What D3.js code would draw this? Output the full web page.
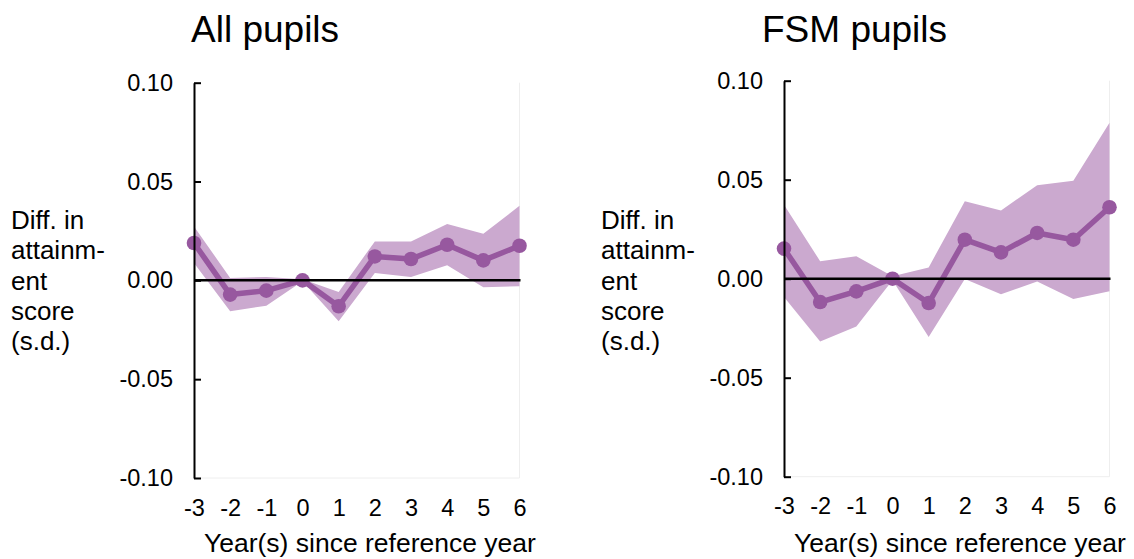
<!DOCTYPE html>
<meta charset="utf-8">
<script src="https://d3js.org/d3.v7.min.js"></script>
<style>
  body { margin: 0; background: #fff; }
  text { font-family: Arial, "Liberation Sans", sans-serif; fill: #000; }
</style>
<div id="chart"></div>
<script>
// data
var years = [-3, -2, -1, 0, 1, 2, 3, 4, 5, 6];
var yTicks = [-0.10, -0.05, 0.00, 0.05, 0.10];

var allEst = [0.0189, -0.0072, -0.0052, 0.0000, -0.0131, 0.0121, 0.0108, 0.0180, 0.0101, 0.0175];
var allHi  = [0.0273, 0.0012, 0.0017, 0.0005, -0.0059, 0.0197, 0.0197, 0.0285, 0.0236, 0.0377];
var allLo  = [0.0088, -0.0156, -0.0128, -0.0005, -0.0207, 0.0037, 0.0017, 0.0076, -0.0035, -0.0030];

var fsmEst = [0.0152, -0.0118, -0.0064, 0.0000, -0.0123, 0.0197, 0.0133, 0.0231, 0.0197, 0.0361];
var fsmHi  = [0.0374, 0.0088, 0.0113, 0.0012, 0.0057, 0.0391, 0.0345, 0.0472, 0.0495, 0.0787];
var fsmLo  = [-0.0093, -0.0317, -0.0241, -0.0008, -0.0295, -0.0002, -0.0079, -0.0014, -0.0103, -0.0064];

var lineColor = "#97589f", bandColor = "#cba9cf";

var svg = d3.select("#chart").append("svg")
    .attr("width", 1134)
    .attr("height", 559);

function panel(title, titleX, est, hi, lo, left, right, top, bottom) {
  var x = d3.scaleLinear().domain([-3, 6]).range([left, right]);
  var y = d3.scaleLinear().domain([-0.1, 0.1]).range([bottom, top]);
  var g = svg.append("g");

  // faint plot frame (right + bottom)
  g.append("path")
    .attr("d", "M" + right + "," + top + "V" + bottom + "H" + left)
    .attr("fill", "none")
    .attr("stroke", "#eeeeee")
    .attr("stroke-width", 1);

  var rows = years.map(function(d, i) { return {x: d, est: est[i], hi: hi[i], lo: lo[i]}; });

  // confidence band
  g.append("path")
    .datum(rows)
    .attr("fill", bandColor)
    .attr("d", d3.area()
      .x(function(d) { return x(d.x); })
      .y0(function(d) { return y(d.lo); })
      .y1(function(d) { return y(d.hi); }));

  // estimate line + dots
  g.append("path")
    .datum(rows)
    .attr("fill", "none")
    .attr("stroke", lineColor)
    .attr("stroke-width", 5.5)
    .attr("stroke-linejoin", "round")
    .attr("d", d3.line()
      .x(function(d) { return x(d.x); })
      .y(function(d) { return y(d.est); }));

  g.selectAll("circle")
    .data(rows)
    .enter()
    .append("circle")
      .attr("cx", function(d) { return x(d.x); })
      .attr("cy", function(d) { return y(d.est); })
      .attr("r", 7.3)
      .attr("fill", lineColor);

  // zero line
  g.append("line")
    .attr("x1", left).attr("x2", right + 1)
    .attr("y1", y(0)).attr("y2", y(0))
    .attr("stroke", "#000")
    .attr("stroke-width", 2.5);

  // y axis, ticks pointing inwards
  var ya = g.append("g")
    .attr("transform", "translate(" + left + ",0)")
    .call(d3.axisLeft(y)
      .tickValues(yTicks)
      .tickSizeInner(-7)
      .tickSizeOuter(0)
      .tickPadding(21)
      .tickFormat(function(d) { return d.toFixed(2); }));
  ya.selectAll("path, line").attr("stroke", "#000").attr("stroke-width", 2);
  ya.selectAll("text").attr("font-size", 23.5).attr("font-family", null);

  // x axis labels only
  var xa = g.append("g")
    .attr("transform", "translate(0," + bottom + ")")
    .call(d3.axisBottom(x)
      .tickValues(years)
      .tickSize(0)
      .tickPadding(21)
      .tickFormat(function(d) { return String(d); }));
  xa.select(".domain").remove();
  xa.selectAll("text").attr("font-size", 23.5).attr("font-family", null);

  // titles
  g.append("text")
    .attr("x", titleX)
    .attr("y", 41.5)
    .attr("font-size", 37)
    .text(title);

  g.append("text")
    .attr("x", left + 10)
    .attr("y", 552)
    .attr("font-size", 26.5)
    .text("Year(s) since reference year");

  var lab = ["Diff. in", "attainm-", "ent", "score", "(s.d.)"];
  g.append("text")
    .attr("font-size", 26)
    .selectAll("tspan")
    .data(lab)
    .enter()
    .append("tspan")
      .attr("x", left - 183)
      .attr("y", function(d, i) { return 229 + i * 30.3; })
      .text(function(d) { return d; });
}

panel("All pupils", 191, allEst, allHi, allLo, 194, 519.5, 82.7, 478);
panel("FSM pupils", 762, fsmEst, fsmHi, fsmLo, 784, 1109.5, 80.7, 476.7);
</script>
